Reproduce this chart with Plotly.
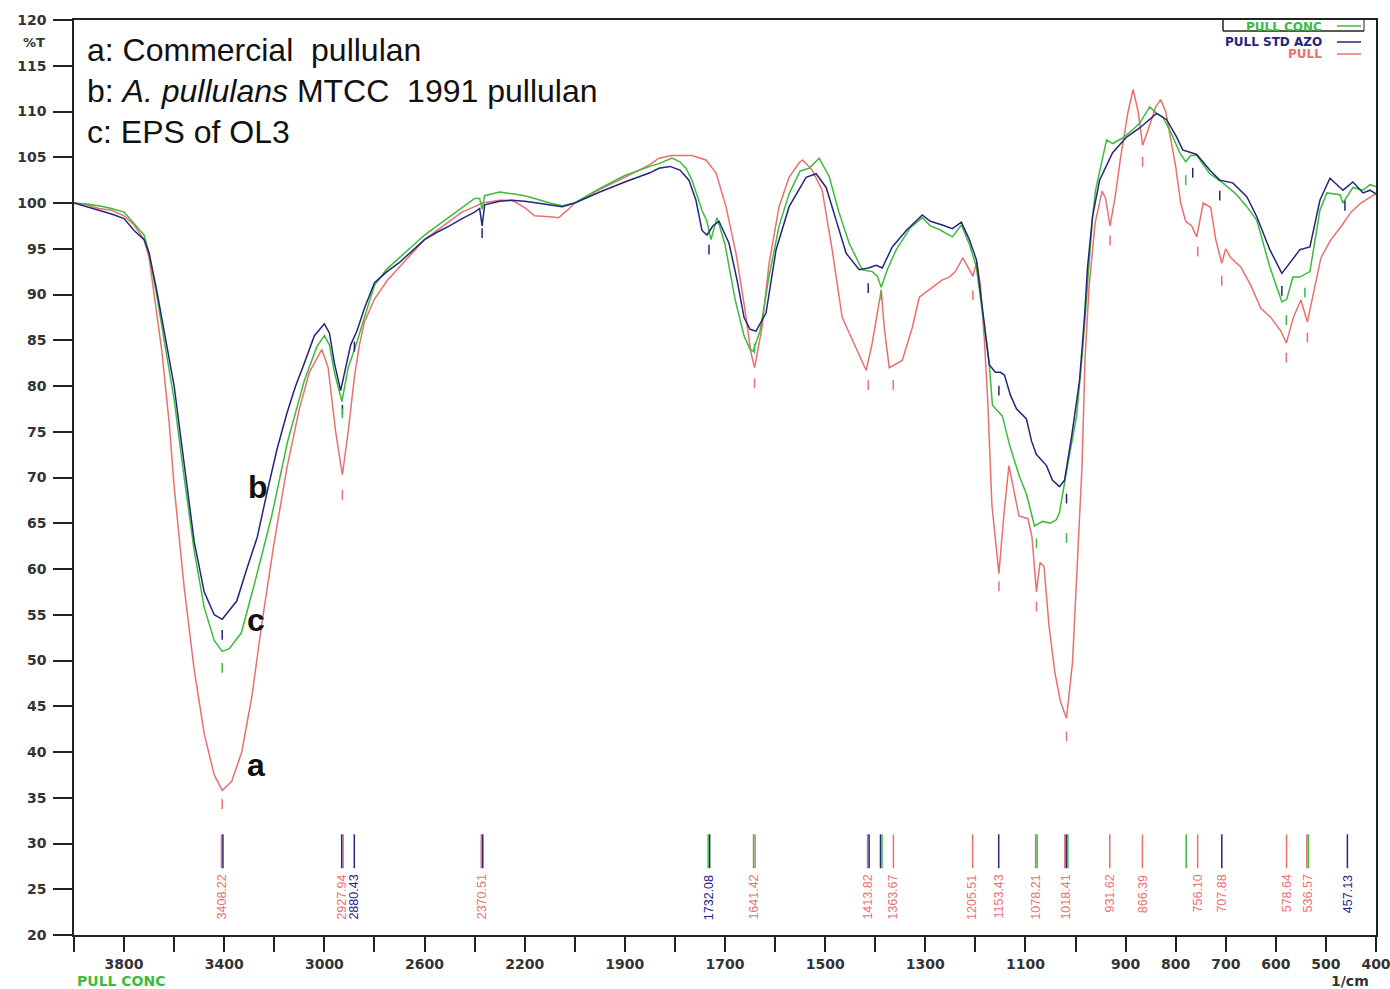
import numpy as np
import plotly.graph_objects as go

# ---------------- data (wavenumber 1/cm, %T) ----------------
red_wn = [4000, 3950, 3900, 3850, 3800, 3760, 3720, 3700, 3680, 3650, 3620, 3600, 3560, 3520, 3480, 3440,
          3408, 3370, 3330, 3290, 3250, 3200, 3150, 3100, 3060, 3010, 2985, 2955, 2928, 2905, 2880, 2860,
          2840, 2800, 2750, 2700, 2650, 2600, 2550, 2500, 2450, 2400, 2370, 2300, 2250, 2200, 2160, 2100,
          2064, 2030, 2000, 1950, 1900, 1850, 1832, 1806, 1766, 1738, 1718, 1698, 1678, 1662, 1648, 1641,
          1626, 1612, 1592, 1572, 1552, 1545, 1526, 1506, 1486, 1466, 1446, 1418, 1406, 1396, 1388, 1382,
          1372, 1346, 1326, 1312, 1292, 1266, 1252, 1240, 1225, 1215, 1205, 1197, 1190, 1182, 1175, 1167,
          1153, 1143, 1133, 1113, 1103, 1095, 1087, 1078, 1071, 1063, 1053, 1041, 1030, 1018, 1006, 993,
          987, 981, 973, 961, 947, 940, 931, 920, 910, 895, 885, 875, 866, 855, 840, 830, 820, 810, 800,
          790, 780, 768, 758, 745, 730, 720, 708, 700, 690, 670, 650, 630, 610, 590, 579, 565, 550, 537,
          525, 510, 490, 470, 450, 430, 410, 400]
red_t = [100, 99.8, 99.4, 99.2, 98.6, 97.6, 96, 94, 90, 84, 76, 69, 58, 49, 42, 37.5,
         35.8, 36.8, 40, 46, 54, 63, 71, 77.5, 81.5, 84, 82, 75, 70.3, 75, 81, 84.5,
         87, 89.5, 91.5, 93, 94.5, 96, 97, 98, 99, 99.6, 100, 100.3, 100.3, 99.5, 98.6, 98.5,
         98.4, 99.2, 100, 101.5, 102.8, 104.2, 104.9, 105.2, 105.2, 104.7, 103.3, 99.6, 94.5, 89, 83.6, 82,
         86.4, 93.4, 99.6, 102.8, 104.4, 104.7, 103.6, 101.4, 94.9, 87.5, 85, 81.7, 84.7, 88, 90.5, 86.4,
         82, 82.8, 86.4, 89.7, 90.5, 91.6, 91.9, 92.5, 94, 93, 92, 93.6, 91, 85, 78, 67,
         59.5, 66, 71.3, 65.8, 65.6, 65.5, 63.5, 57.5, 60.7, 60.3, 53.8, 48.6, 45.5, 43.7, 49.8, 63.5,
         71.3, 83, 90.8, 97.8, 101.3, 100.5, 97.5, 101, 105, 110, 112.4, 110, 106.3, 108, 110.5, 111.3, 110, 107, 104,
         100, 98, 97.5, 96.3, 100, 99.5, 96, 93.4, 95, 94, 93, 91, 88.5, 87.5, 86, 84.7, 87.5, 89.4, 87,
         90, 94, 96, 97.4, 99, 100, 100.7, 101]

blue_wn = [4000, 3950, 3900, 3850, 3800, 3760, 3720, 3700, 3670, 3640, 3600, 3560, 3520, 3480, 3440, 3408,
           3385, 3350, 3310, 3268, 3228, 3190, 3150, 3115, 3080, 3040, 3000, 2980, 2960, 2935, 2915, 2895,
           2870, 2840, 2800, 2750, 2700, 2650, 2600, 2550, 2500, 2450, 2400, 2380, 2370, 2360, 2300, 2250,
           2200, 2150, 2100, 2050, 2000, 1950, 1900, 1850, 1832, 1810, 1790, 1772, 1758, 1746, 1736, 1724,
           1712, 1700, 1692, 1676, 1662, 1650, 1638, 1618, 1598, 1572, 1538, 1518, 1498, 1478, 1458, 1432,
           1414, 1398, 1386, 1366, 1338, 1306, 1290, 1266, 1246, 1228, 1212, 1198, 1186, 1172, 1160, 1150,
           1142, 1130, 1118, 1098, 1088, 1078, 1058, 1046, 1032, 1022, 1008, 992, 982, 976, 966, 956, 952,
           926, 898, 872, 838, 818, 798, 786, 758, 732, 712, 686, 658, 638, 612, 588, 572, 552, 532, 512,
           492, 466, 446, 426, 412, 400]
blue_t = [100, 99.6, 99.2, 98.8, 98.3, 97, 96, 94.5, 90.5, 86, 80, 71.5, 63, 57.5, 55, 54.5,
          55.3, 56.5, 60, 63.5, 68.5, 73, 77, 80, 82.5, 85.5, 86.8, 85.8, 82.5, 79.5, 82, 84.5,
          86, 88.5, 91.3, 92.5, 93.5, 94.8, 96, 96.8, 97.5, 98.3, 99, 99.4, 97.5, 99.8, 100.2, 100.3,
          100.2, 100, 99.8, 99.6, 100, 101.2, 102.3, 103.3, 103.8, 104, 103.6, 102.5, 100.3, 97, 96.5, 97.5,
          98, 96.5, 95.6, 91.6, 87.5, 86.2, 86, 88, 94.9, 99.6, 102.8, 103.2, 101.7, 98.1, 94.5, 92.7,
          92.9, 93.2, 92.9, 95.2, 97, 98.7, 98, 97.6, 97.2, 97.9, 96, 93.8, 88.6, 82.3, 81.5, 81.5,
          81.2, 79, 77.5, 76.4, 74, 72.5, 71.3, 69.7, 69, 69.7, 74.4, 80.6, 87.6, 93, 98.5, 101.7, 102.5,
          105.5, 107.2, 108.2, 109.8, 109.1, 107.2, 105.8, 105.3, 103.6, 102.5, 102.2, 100.7, 98.5, 94.9, 92.3, 93.4, 94.9, 95.2, 100.3,
          102.7, 101.4, 102.3, 101.1, 101.4, 101]

green_wn = [4000, 3950, 3900, 3850, 3800, 3760, 3720, 3700, 3670, 3640, 3600, 3560, 3520, 3480, 3440, 3408,
            3380, 3332, 3280, 3212, 3148, 3080, 3030, 3000, 2980, 2960, 2930, 2905, 2870, 2840, 2800, 2750,
            2700, 2650, 2600, 2550, 2500, 2450, 2400, 2380, 2370, 2360, 2300, 2250, 2200, 2150, 2100, 2050,
            2000, 1950, 1900, 1850, 1832, 1806, 1790, 1778, 1766, 1746, 1736, 1728, 1716, 1700, 1680, 1662,
            1650, 1644, 1630, 1612, 1592, 1572, 1550, 1532, 1512, 1492, 1472, 1452, 1426, 1406, 1396, 1388,
            1376, 1358, 1330, 1306, 1290, 1272, 1246, 1228, 1212, 1198, 1186, 1172, 1166, 1146, 1132, 1112,
            1098, 1082, 1066, 1050, 1038, 1032, 1016, 998, 986, 976, 966, 960, 950, 938, 926, 906, 886, 872,
            852, 838, 826, 812, 792, 780, 770, 758, 732, 706, 680, 658, 638, 612, 588, 578, 566, 552, 532,
            512, 498, 472, 466, 446, 426, 412, 400]
green_t = [100, 99.9, 99.7, 99.4, 99, 97.8, 96.5, 94.5, 90, 85, 78.5, 70, 62, 55.8, 52.2, 51,
           51.3, 53, 58.3, 65.6, 73.8, 80.6, 84.3, 85.5, 84.5, 81.5, 78.3, 82, 84.8, 87.5, 91, 92.8,
           94, 95.3, 96.5, 97.5, 98.5, 99.5, 100.5, 100.5, 99.3, 100.8, 101.2, 101, 100.8, 100.4, 100, 99.7,
           100, 101.6, 103, 104, 104.3, 104.9, 104.5, 103.8, 102.5, 99.2, 98, 96, 98.4, 95.5, 89.5, 85.5,
           84, 83.8, 86, 92, 97.5, 101, 103.5, 103.8, 104.9, 102.9, 98.9, 95.6, 92.7, 92.5, 92, 90.8,
           92.7, 94.9, 97.3, 98.4, 97.5, 97.1, 96.3, 97.6, 95.5, 93, 88, 82.2, 77.9, 76.7, 73.6, 70.1,
           68.2, 64.7, 65.2, 65, 65.4, 66.2, 71.3, 76.7, 83.8, 90.8, 98.5, 101.4, 104, 106.9, 106.5, 107.1, 108, 108.7,
           110.5, 109.8, 109.4, 108, 105.5, 104.5, 105.2, 105.2, 103.2, 102.2, 101, 99.6, 98.1, 93, 89.2, 89.5, 91.9, 91.9, 92.5,
           99.2, 101.1, 100.9, 100, 101.7, 101.4, 102, 101.8]

# peak annotations at the bottom (wavenumber, label, label colour key, line colour keys)
peak_wn = [3408.22, 2927.94, 2880.43, 2370.51, 1732.08, 1641.42, 1413.82, 1388.0, 1363.67, 1205.51,
           1153.43, 1078.21, 1018.41, 931.62, 866.39, 779.0, 756.10, 707.88, 578.64, 536.57, 457.13]
peak_text = ["3408.22", "2927.94", "2880.43", "2370.51", "1732.08", "1641.42", "1413.82", "", "1363.67",
             "1205.51", "1153.43", "1078.21", "1018.41", "931.62", "866.39", "", "756.10", "707.88",
             "578.64", "536.57", "457.13"]
peak_text_col = ["r", "r", "b", "r", "b", "r", "r", "", "r", "r", "r", "r", "r", "r", "r", "", "r", "r",
                 "r", "r", "b"]
peak_lines = ["br", "rb", "b", "br", "bg", "rg", "br", "gb", "r", "r", "b", "gr", "gbr", "r", "r", "g",
              "r", "b", "r", "gr", "b"]

# small peak marks under the curves
mark_r_wn = [3408, 2928, 1641, 1414, 1364, 1205, 1153, 1078, 1018, 931, 866, 756, 708, 579, 537]
mark_r_t = [34.6, 68.4, 80.6, 80.4, 80.4, 90.2, 58.4, 56.2, 42.0, 96.2, 104.8, 95.0, 91.8, 83.4, 85.6]
mark_b_wn = [3408, 2928, 2880, 2370, 1732, 1414, 1153, 1018, 766, 712, 588, 462]
mark_b_t = [53.1, 77.7, 84.6, 97.0, 95.2, 91.0, 79.8, 68.0, 103.6, 101.1, 90.7, 100.0]
mark_g_wn = [3408, 2928, 1641, 1388, 1078, 1018, 780, 579, 542]
mark_g_t = [49.5, 77.3, 84.4, 90.2, 63.1, 63.7, 102.8, 87.5, 90.5]

x_ticks = [4000, 3800, 3600, 3400, 3200, 3000, 2800, 2600, 2400, 2200, 2000, 1900, 1800, 1700, 1600,
           1500, 1400, 1300, 1200, 1100, 1000, 900, 800, 700, 600, 500, 400]
x_labeled = [3800, 3400, 3000, 2600, 2200, 1900, 1700, 1500, 1300, 1100, 900, 800, 700, 600, 500, 400]
y_ticks = list(range(20, 121, 5))

RED = "#e8716f"
BLUE = "#25257e"
GREEN = "#3dbb3d"
COL = {"r": RED, "b": BLUE, "g": GREEN}


def xpos(w):
    """Scale break at 2000 1/cm: region above 2000 is compressed by 2."""
    w = np.asarray(w, dtype=float)
    return np.where(w > 2000, 2000 + (w - 2000) / 2.0, w)


# pixel helpers for layout-only items
L, R, T, B = 74, 1376, 20, 935


def px(xp):
    return (xp - L) / (R - L)


def py(yp):
    return 1 - (yp - T) / (B - T)


fig = go.Figure()

for wn, t, c, name in [(red_wn, red_t, RED, "PULL"), (green_wn, green_t, GREEN, "PULL CONC"),
                       (blue_wn, blue_t, BLUE, "PULL STD AZO")]:
    fig.add_trace(go.Scatter(x=xpos(wn), y=t, mode="lines", name=name,
                             line=dict(color=c, width=1.5), hoverinfo="skip"))

# peak marks
for wn, t, c in [(mark_r_wn, mark_r_t, RED), (mark_b_wn, mark_b_t, BLUE), (mark_g_wn, mark_g_t, GREEN)]:
    fig.add_trace(go.Scatter(x=xpos(wn), y=np.array(t) - 0.3, mode="markers",
                             marker=dict(symbol="line-ns", size=7, line=dict(color=c, width=1.5)),
                             hoverinfo="skip"))

# vertical peak lines at the bottom
for key in "rbg":
    xs, ys = [], []
    for w, lines in zip(peak_wn, peak_lines):
        if key in lines:
            i = lines.index(key)
            off = (i - (len(lines) - 1) / 2.0) * 3.0
            xv = float(xpos(w)) + off
            xs += [xv, xv, None]
            ys += [31.0, 27.3, None]
    fig.add_trace(go.Scatter(x=xs, y=ys, mode="lines", line=dict(color=COL[key], width=1.5),
                             hoverinfo="skip"))

annotations = []
for w, txt, ck in zip(peak_wn, peak_text, peak_text_col):
    if not txt:
        continue
    annotations.append(dict(x=float(xpos(w)), y=26.8, xref="x", yref="y", text=txt, showarrow=False,
                            textangle=-90, xanchor="center", yanchor="top",
                            font=dict(family="Liberation Sans", size=12.5, color=COL[ck])))

# top-left description
big = dict(family="Liberation Sans", size=32, color="#111")
annotations += [
    dict(x=px(85), y=py(50), xref="paper", yref="paper", text="a: Commercial\u00a0\u00a0pullulan",
         showarrow=False, xanchor="left", yanchor="middle", font=big),
    dict(x=px(85), y=py(91), xref="paper", yref="paper",
         text="b: <i>A. pullulans</i>\u00a0MTCC\u00a0\u00a01991 pullulan",
         showarrow=False, xanchor="left", yanchor="middle", font=big),
    dict(x=px(85), y=py(132), xref="paper", yref="paper", text="c: EPS of OL3",
         showarrow=False, xanchor="left", yanchor="middle", font=big),
]
# curve letters
lab = dict(family="Liberation Sans", size=32, color="#111", weight="bold")
for letter, xx, yy in [("b", 258, 487), ("c", 256, 620), ("a", 256, 765)]:
    annotations.append(dict(x=px(xx), y=py(yy), xref="paper", yref="paper", text=letter,
                            showarrow=False, xanchor="center", yanchor="middle", font=lab))

# legend (top right)
leg_font = dict(family="DejaVu Sans", size=12, weight="bold")
for txt, c, yy in [("PULL CONC", GREEN, 27), ("PULL STD AZO", BLUE, 42), ("PULL", RED, 54)]:
    annotations.append(dict(x=px(1324), y=py(yy), xref="paper", yref="paper", text=txt,
                            showarrow=False, xanchor="right", yanchor="middle",
                            font=dict(color=c, **leg_font)))

# axis captions
annotations += [
    dict(x=px(47), y=py(43), xref="paper", yref="paper", text="%T", showarrow=False,
         xanchor="right", yanchor="middle",
         font=dict(family="DejaVu Sans", size=13, color="#333", weight="bold")),
    dict(x=px(75), y=py(981), xref="paper", yref="paper", text="PULL CONC", showarrow=False,
         xanchor="left", yanchor="middle",
         font=dict(family="DejaVu Sans", size=14, color=GREEN, weight="bold")),
    dict(x=px(1371), y=py(981), xref="paper", yref="paper", text="1/cm", showarrow=False,
         xanchor="right", yanchor="middle",
         font=dict(family="DejaVu Sans", size=14, color="#333", weight="bold")),
]

shapes = [
    dict(type="line", xref="paper", yref="paper", x0=px(1223), x1=px(1223), y0=py(20), y1=py(31),
         line=dict(color="#222", width=1.5)),
    dict(type="line", xref="paper", yref="paper", x0=px(1223), x1=px(1364), y0=py(31), y1=py(31),
         line=dict(color="#222", width=1.5)),
    dict(type="line", xref="paper", yref="paper", x0=px(1364), x1=px(1364), y0=py(20), y1=py(31),
         line=dict(color="#222", width=1.0)),
]
for c, yy in [(GREEN, 26), (BLUE, 42), (RED, 54)]:
    shapes.append(dict(type="line", xref="paper", yref="paper", x0=px(1337), x1=px(1361),
                       y0=py(yy), y1=py(yy), line=dict(color=c, width=1.5)))

tick_font = dict(family="DejaVu Sans", size=14, color="#333", weight="bold")
fig.update_layout(
    width=1390, height=989,
    margin=dict(l=L, r=1390 - R, t=T, b=989 - B, autoexpand=False),
    plot_bgcolor="white", paper_bgcolor="white",
    showlegend=False,
    annotations=annotations, shapes=shapes,
    xaxis=dict(range=[float(xpos(4000)), float(xpos(400))], ticklabeloverflow="allow",
               tickmode="array", tickvals=xpos(x_ticks).tolist(),
               ticktext=[str(v) if v in x_labeled else "" for v in x_ticks],
               ticks="outside", ticklen=15, tickwidth=1.5, tickcolor="#222",
               showline=True, linecolor="#222", linewidth=1.5, mirror=True,
               showgrid=False, zeroline=False, tickfont=tick_font),
    yaxis=dict(range=[20, 120], tickmode="array", tickvals=y_ticks, ticklabeloverflow="allow",
               ticktext=[str(v) for v in y_ticks],
               ticks="outside", ticklen=19, tickwidth=1.5, tickcolor="#222",
               showline=True, linecolor="#222", linewidth=1.5, mirror=True,
               showgrid=False, zeroline=False, tickfont=tick_font, ticklabelstandoff=4),
)

fig.write_html("out.html")
